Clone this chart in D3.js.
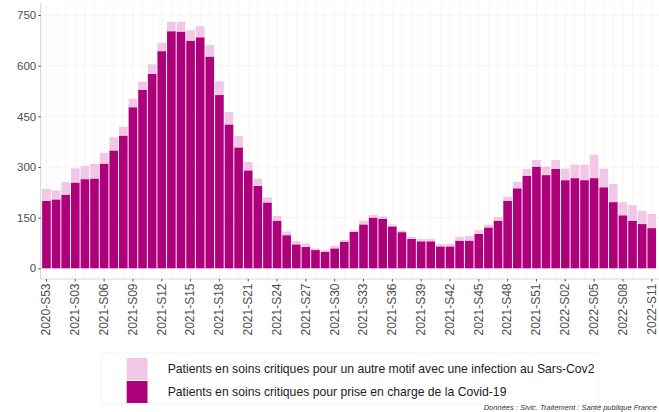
<!DOCTYPE html>
<html>
<head>
<meta charset="utf-8">
<script src="https://cdn.jsdelivr.net/npm/d3@7/dist/d3.min.js"></script>
<style>
  html, body { margin: 0; padding: 0; background: #fff; }
  svg { display: block; font-family: "Liberation Sans", Arial, sans-serif; }
</style>
</head>
<body>
<svg id="chart" width="659" height="412"></svg>
<script>
// ---- Data ----
const weeks = ["2020-S53"]
  .concat(d3.range(1, 53).map(w => "2021-S" + String(w).padStart(2, "0")))
  .concat(d3.range(1, 12).map(w => "2022-S" + String(w).padStart(2, "0")));

const covidValues = [200,204,218,254,264,266,310,349,393,477,
  529,576,643,702,701,674,684,627,513,426,
  358,290,244,195,141,98,71,63,54,49,
  59,79,108,130,150,147,124,107,87,80,
  80,65,65,82,82,102,121,141,200,237,
  274,301,276,294,261,267,261,267,240,196,
  157,141,131,119];

const autreValues = [35,26,37,42,39,43,32,39,26,25,
  24,28,25,28,29,31,33,34,41,37,
  34,25,22,15,14,11,10,11,5,5,
  8,5,5,11,8,7,6,5,6,7,
  7,7,8,11,14,11,8,11,12,19,
  20,20,25,27,34,40,46,69,55,54,
  39,46,39,42];

const yTicks = [0, 150, 300, 450, 600, 750];
const xTickLabels = weeks.filter((d, i) => i % 3 === 0);

const seriesNames = [
  "Patients en soins critiques pour un autre motif avec une infection au Sars-Cov2",
  "Patients en soins critiques pour prise en charge de la Covid-19"
];
const caption = "Données : Sivic. Traitement : Santé publique France";

// ---- Layout ----
const colDark = "#ae007b";
const colLight = "#f2c6e5";
const panel = { left: 40.7, right: 657.5, top: 3, bottom: 279 };

const svg = d3.select("#chart");

const x = d3.scaleBand()
  .domain(weeks)
  .range([panel.left, panel.right])
  .paddingInner(0.1)
  .paddingOuter(0.15);

const y = d3.scaleLinear().domain([0, 750]).range([268.3, 15]);

// grid
const grid = svg.append("g");
grid.selectAll("line.h").data(yTicks).join("line")
  .attr("x1", panel.left).attr("x2", 659)
  .attr("y1", d => y(d)).attr("y2", d => y(d))
  .attr("stroke", "#f1f1f1").attr("stroke-width", 0.8);
grid.selectAll("line.v").data(weeks).join("line")
  .attr("y1", panel.top).attr("y2", panel.bottom)
  .attr("x1", d => x(d) + x.bandwidth() / 2).attr("x2", d => x(d) + x.bandwidth() / 2)
  .attr("stroke", "#f3f3f3").attr("stroke-width", 0.8);

// stacked bars
const rows = weeks.map((w, i) => ({ week: w, covid: covidValues[i], autre: autreValues[i] }));
const stack = d3.stack().keys(["covid", "autre"])(rows);
const colors = { covid: colDark, autre: colLight };

svg.append("g").selectAll("g").data(stack).join("g")
  .attr("fill", d => colors[d.key])
  .selectAll("rect").data(d => d).join("rect")
  .attr("x", d => x(d.data.week))
  .attr("width", x.bandwidth())
  .attr("y", d => y(d[1]))
  .attr("height", d => y(d[0]) - y(d[1]));

// axes lines
svg.append("line")
  .attr("x1", panel.left).attr("x2", panel.left)
  .attr("y1", panel.top).attr("y2", panel.bottom)
  .attr("stroke", "#d9d9d9").attr("stroke-width", 1.2);
svg.append("line")
  .attr("x1", panel.left).attr("x2", 659)
  .attr("y1", panel.bottom).attr("y2", panel.bottom)
  .attr("stroke", "#d9d9d9").attr("stroke-width", 1.2);

// y axis
const yAxis = d3.axisLeft(y).tickValues(yTicks).tickSize(2.5).tickPadding(2);
const gy = svg.append("g").attr("transform", `translate(${panel.left},0)`).call(yAxis);
gy.select(".domain").remove();
gy.selectAll(".tick line").attr("stroke", "#555");
gy.selectAll(".tick text").attr("fill", "#4d4d4d").style("font-size", "11.5px")
  .style("font-family", "Liberation Sans, Arial, sans-serif");

// x axis
const xAxis = d3.axisBottom(x).tickValues(xTickLabels).tickSize(2.5).tickPadding(2);
const gx = svg.append("g").attr("transform", `translate(0,${panel.bottom})`).call(xAxis);
gx.select(".domain").remove();
gx.selectAll(".tick line").attr("stroke", "#555");
gx.selectAll(".tick text")
  .attr("fill", "#4d4d4d").style("font-size", "12px")
  .style("font-family", "Liberation Sans, Arial, sans-serif")
  .attr("transform", "rotate(-90)")
  .attr("text-anchor", "end")
  .attr("x", -4.5).attr("y", 0).attr("dy", "0.32em");

// legend
const lg = svg.append("g");
lg.append("rect").attr("x", 101).attr("y", 353).attr("width", 497).attr("height", 51)
  .attr("fill", "none").attr("stroke", "#f2f2f2").attr("stroke-width", 0.8);
const legendItems = [
  { name: seriesNames[0], color: colLight, y: 358 },
  { name: seriesNames[1], color: colDark, y: 381 }
];
legendItems.forEach(it => {
  lg.append("rect").attr("x", 126.7).attr("y", it.y).attr("width", 20.8).attr("height", 22)
    .attr("fill", it.color);
  lg.append("text").attr("x", 167.7).attr("y", it.y + 11).attr("dy", "0.35em")
    .attr("fill", "#222").style("font-size", "12.2px").text(it.name);
});

// caption
svg.append("text").attr("x", 657).attr("y", 410)
  .attr("text-anchor", "end").attr("fill", "#333")
  .style("font-size", "7.5px").style("font-style", "italic")
  .text(caption);
</script>
</body>
</html>
